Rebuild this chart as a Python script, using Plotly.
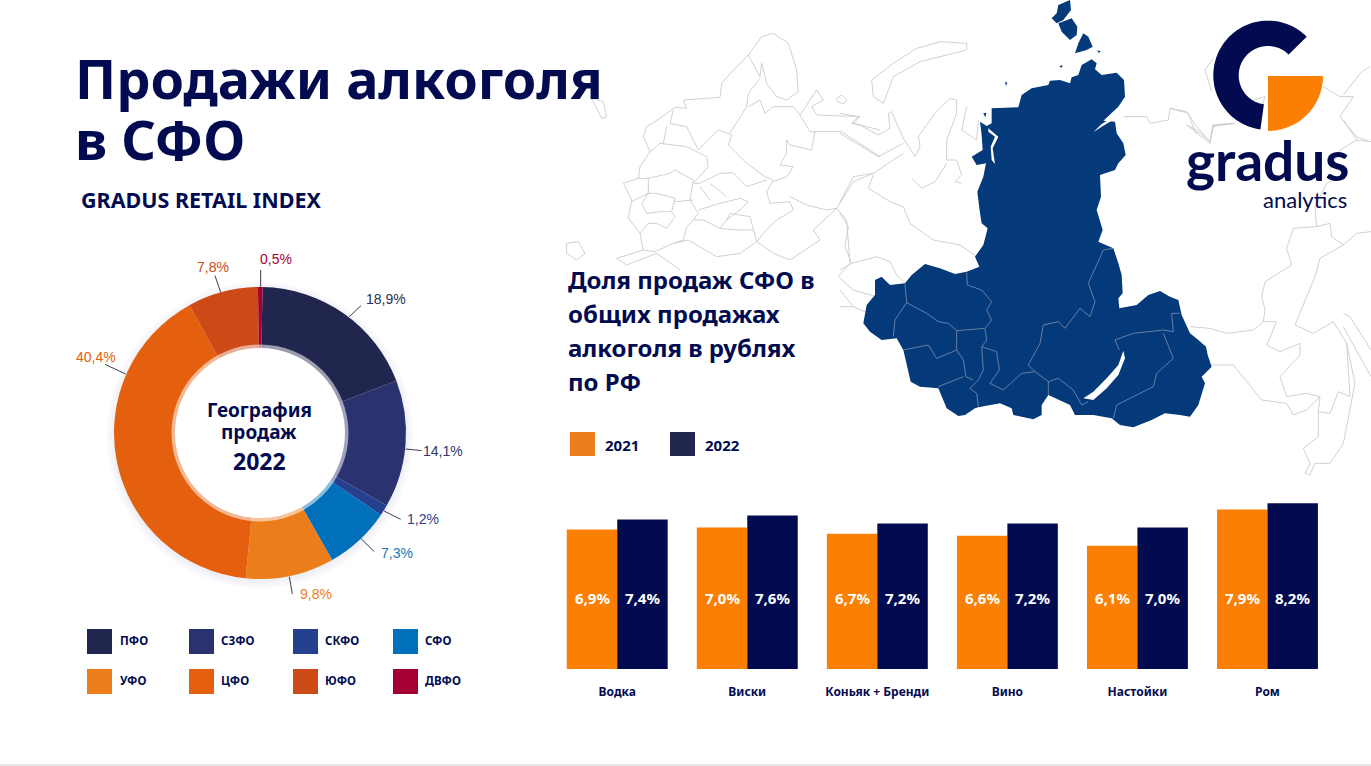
#!/usr/bin/env python3
# -*- coding: utf-8 -*-
import numpy as np
import plotly.graph_objects as go

W, H = 1371, 766
NAVY = "#020B50"
FONT = "Noto Sans"

# donut
regions = ["ПФО", "СЗФО", "СКФО", "СФО", "УФО", "ЦФО", "ЮФО", "ДВФО"]
region_shares = [18.9, 14.1, 1.2, 7.3, 9.8, 40.4, 7.8, 0.5]
region_colors = ["#21264E", "#2A3270", "#24408F", "#0070BB",
                 "#EC7D1B", "#E4600F", "#CB4A15", "#A50034"]
label_colors = ["#2B3055", "#2F3768", "#2A4488", "#1B75B5",
                "#EC7D1B", "#E4600F", "#CB4A15", "#A50034"]

# bars
categories = ["Водка", "Виски", "Коньяк + Бренди", "Вино", "Настойки", "Ром"]
share_2021 = [6.9, 7.0, 6.7, 6.6, 6.1, 7.9]
share_2022 = [7.4, 7.6, 7.2, 7.2, 7.0, 8.2]
years = ["2021", "2022"]

# map outlines, traced by hand, (x, y) in zoomed crop units
SFO_MAIN = [(455,325),(535,322),(545,285),(575,265),(625,255),(630,242),(660,240),(690,250),(695,232),(715,225),(725,195),(755,178),(770,190),(765,208),(785,225),(830,218),(852,240),(855,290),(835,320),(790,362),(825,365),(830,400),(850,430),(857,465),(835,490),(825,510),(780,525),(783,590),(770,630),(788,690),(775,725),(820,745),(835,790),(845,825),(848,880),(835,895),(838,925),(890,915),(925,885),(960,873),(990,890),(1015,900),(1025,945),(1050,1000),(1075,1020),(1098,1040),(1103,1065),(1115,1100),(1085,1130),(1095,1150),(1075,1215),(1050,1250),(1020,1245),(975,1240),(935,1260),(880,1282),(840,1275),(815,1255),(760,1245),(705,1245),(690,1215),(625,1185),(605,1215),(605,1245),(580,1258),(520,1245),(515,1225),(480,1210),(415,1222),(405,1225),(375,1245),(355,1248),(320,1225),(295,1165),(240,1160),(212,1145),(190,1050),(170,1015),(125,1020),(90,995),(70,970),(80,915),(105,885),(105,840),(125,830),(150,855),(195,850),(215,825),(255,792),(300,805),(345,822),(380,815),(418,800),(405,770),(430,735),(443,685),(425,670),(420,640),(412,575),(430,530),(438,490),(410,495),(395,470),(428,450),(425,405),(420,365),(440,378),(455,370)]
SFO_ISLANDS = [
    [(655,15),(690,0),(693,30),(670,60),(650,70),(635,55),(650,40)],
    [(655,70),(695,55),(712,80),(710,105),(690,120),(665,95)],
    [(730,100),(745,110),(758,140),(740,150),(705,160),(715,130)],
    [(495,245),(502,248),(498,258)],
    [(658,198),(668,196),(664,204)],
    [(772,150),(783,155),(775,158)],
    [(430,340),(439,338),(436,352)],
]
SFO_HOLES = [
    [(850,1052),(855,1075),(835,1125),(800,1165),(760,1200),(730,1195),(760,1175),(800,1135),(835,1095)],
    [(445,385),(475,410),(458,445),(465,492),(455,480),(452,440),(465,410),(445,395)],
    [(760,397),(785,372),(830,345),(815,362),(785,380)],
]
SFO_BORDERS = [
    [(380,818),(382,855),(425,870),(455,905),(440,930),(455,960),(435,985),(350,992),(325,970),(295,965),(260,940),(200,908),(195,850)],
    [(200,908),(165,960),(160,1010)],
    [(350,992),(350,1050),(370,1080),(378,1130),(400,1140)],
    [(435,985),(440,1020),(425,1040),(430,1110),(415,1140),(390,1165),(410,1180),(415,1220)],
    [(425,1040),(470,1055),(478,1110),(450,1150),(490,1170),(545,1120),(585,1115),(625,1145),(625,1185)],
    [(585,1115),(565,1095),(600,1030),(610,975),(655,965),(675,985),(720,925),(750,950),(765,905),(745,850),(790,750),(820,745)],
    [(625,1145),(655,1135),(700,1170),(725,1215),(745,1205)],
    [(190,1050),(265,1035),(290,1075),(350,1050)],
    [(295,1160),(370,1130)],
    [(825,1020),(880,1000),(970,990),(1000,995),(995,940),(1020,940)],
    [(825,1020),(838,1050)],
    [(970,1000),(1000,1075),(950,1120),(940,1160),(830,1215),(820,1255)],
]
MIDDLE_LINES = [
    [(95,240),(160,190),(230,145),(300,125),(380,130),(380,150),(320,165),(240,185),(160,230),(130,310),(100,290),(95,240)],
    [(0,340),(55,350),(35,370),(60,375),(115,405),(150,385),(145,340),(155,335),(190,415),(225,470),(240,440),(235,410),(285,340),(330,295),(350,300),(350,340),(320,420),(320,480),(350,480),(365,525),(345,545),(365,550)],
    [(320,490),(285,545),(245,565),(215,535)],
    [(380,320),(365,390),(410,420),(415,360)],
    [(0,400),(115,470),(190,430)],
    [(190,460),(100,520),(40,545),(0,610)],
    [(100,525),(85,565),(150,605),(190,620),(210,670),(280,720),(360,735),(410,770)],
    [(0,640),(25,680),(15,740),(35,790),(110,770),(150,785),(170,825),(195,850)],
    [(35,790),(0,810)],
    [(0,870),(40,920),(75,935)],
    [(0,920),(40,920)],
    [(850,350),(920,350),(930,370),(985,360),(990,325),(1040,335),(1070,380),(1110,425),(1120,380),(1185,370)],
    [(1040,375),(1075,400)],
]
WEST_LINES = [
    [(565,105),(605,50),(640,40),(685,70),(710,150),(715,215),(680,240),(650,230),(620,190),(605,130),(600,170),(565,105)],
    [(370,240),(480,232),(485,190),(520,150),(565,105)],
    [(370,240),(380,265),(345,262),(300,295),(260,320),(250,350),(270,395),(240,440),(235,475),(190,490),(215,540),(205,595),(240,640),(250,690),(285,695),(340,670)],
    [(340,270),(330,310),(380,320),(415,390),(475,330),(515,345),(505,375),(560,430),(615,470),(640,480),(620,515),(630,550),(690,545)],
    [(600,175),(565,220),(560,260),(510,340)],
    [(565,260),(600,240),(615,280),(640,260),(700,260),(720,285),(750,335),(845,335),(960,410)],
    [(270,395),(300,370),(380,380),(440,410),(445,440),(400,490),(420,490),(480,460),(520,458),(560,500),(620,480)],
    [(310,370),(320,320)],
    [(235,475),(265,475),(330,460),(345,450),(400,480),(390,540),(415,580),(400,600),(380,620),(370,660),(340,670)],
    [(265,475),(265,520),(215,545)],
    [(265,520),(290,520),(345,535),(335,575),(300,575),(260,580),(245,550),(265,520)],
    [(345,545),(400,540)],
    [(335,575),(345,590),(320,625),(290,610),(265,610),(240,640)],
    [(415,570),(480,550),(540,535),(565,545),(540,570),(500,600),(480,625),(430,600),(400,600)],
    [(420,500),(450,540)],
    [(450,490),(500,530)],
    [(690,545),(700,570),(650,600),(610,640),(590,665),(640,700),(690,720),(780,660),(760,630),(830,565),(860,600),(870,730),(835,770),(880,810),(950,830)],
    [(690,530),(740,555),(800,570),(830,565),(880,470),(940,460)],
    [(680,360),(690,375),(755,390),(765,335)],
    [(680,360),(680,400),(660,435),(700,440),(680,470),(640,485)],
    [(340,670),(385,660),(470,710),(540,700),(590,665)],
    [(250,690),(170,715),(200,735),(290,700),(360,750)],
    [(500,600),(510,580),(570,590),(590,665)],
    [(480,625),(530,630),(580,630)],
    [(720,285),(770,210),(790,240),(755,260),(770,285),(900,290),(880,310),(960,330)],
    [(845,225),(860,240),(850,252),(832,245),(830,235),(845,225)],
    [(95,235),(130,245),(140,290),(125,295),(95,235)],
    [(20,670),(55,665),(75,700),(50,720),(20,700),(20,670)],
]
EAST_LINES = [
    [(180,620),(240,625),(290,640),(370,630),(400,605),(440,605),(410,675),(450,695),(510,670),(510,705),(450,770),(470,830),(530,820),(570,830),(565,875),(600,880),(625,815),(660,830),(650,670),(610,605),(550,640),(495,615),(555,470),(570,415),(640,375),(680,340),(723,335)],
    [(400,605),(405,570),(395,530),(405,485),(485,435),(470,385),(490,325),(560,320),(600,310),(605,350),(640,375)],
    [(560,320),(555,260),(590,190),(630,170),(640,140)],
    [(245,735),(310,735),(395,840),(470,850),(490,885),(530,870),(570,830)],
    [(565,875),(565,950),(520,985),(540,1030),(525,1060),(540,1065),(555,1030),(600,1030),(640,970),(675,790),(650,670)],
    [(640,580),(660,590),(723,690)],
    [(640,620),(723,770)],
    [(640,0),(680,60),(723,65)],
    [(680,60),(630,90),(600,150)],
    [(170,15),(200,30),(240,65),(250,15),(310,10)],
]
NE_LINES = [
    [(0,325),(55,340),(75,395),(120,430),(128,375),(190,370)],
    [(460,260),(510,290),(550,290),(510,350),(560,410),(600,425)],
    [(520,285),(575,215),(600,200)],
    [(130,175),(105,210),(125,275)],
    [(250,300),(285,290),(275,320)],
]


def px(x):
    return x / W


def py(y):
    return 1 - y / H


def crop(points, x0, y0, scale=3):
    return [(x0 + x / scale, y0 + y / scale) for x, y in points]


def path(points, closed=False):
    d = "M" + "L".join(f"{px(x):.5f},{py(y):.5f}" for x, y in points)
    return d + ("Z" if closed else "")


def poly_shape(points, color, layer="below"):
    return dict(type="path", xref="paper", yref="paper", path=path(points, True),
                fillcolor=color, line=dict(width=0), layer=layer)


def line_shape(points, color, width=0.9, layer="below"):
    return dict(type="path", xref="paper", yref="paper", path=path(points),
                line=dict(color=color, width=width), layer=layer)


def rect_shape(x0, y0, x1, y1, color):
    return dict(type="rect", xref="paper", yref="paper", x0=px(x0), x1=px(x1),
                y0=py(y1), y1=py(y0), fillcolor=color, line=dict(width=0))


def circle_shape(cx, cy, r, **kwargs):
    return dict(type="circle", xref="paper", yref="paper", x0=px(cx - r), x1=px(cx + r),
                y0=py(cy + r), y1=py(cy - r), **kwargs)


def text_at(x, y, text, size, color=NAVY, bold=True, anchor="left", family=FONT):
    return dict(xref="paper", yref="paper", x=px(x), y=py(y), text=text, showarrow=False,
                xanchor=anchor, yanchor="middle", borderpad=0,
                font=dict(family=family, size=size, color=color,
                          weight=700 if bold else 400))


def pct(value):
    return f"{value:.1f}".replace(".", ",") + "%"


shapes = []
annotations = []

# background map
MAP_LINE = "#CBCBCB"
for line in MIDDLE_LINES:
    shapes.append(line_shape(crop(line, 840, 0), MAP_LINE))
for line in WEST_LINES:
    shapes.append(line_shape(crop(line, 560, 20), MAP_LINE))
for line in EAST_LINES:
    shapes.append(line_shape(crop(line, 1130, 120), MAP_LINE))
for line in NE_LINES:
    shapes.append(line_shape(crop(line, 1170, 0), MAP_LINE))

# the highlighted district
SFO_COLOR = "#04397A"
shapes.append(poly_shape(crop(SFO_MAIN, 840, 0), SFO_COLOR))
for island in SFO_ISLANDS:
    shapes.append(poly_shape(crop(island, 840, 0), SFO_COLOR))
for hole in SFO_HOLES:
    shapes.append(poly_shape(crop(hole, 840, 0), "white"))
for border in SFO_BORDERS:
    shapes.append(line_shape(crop(border, 840, 0), "#6F87AA"))

# logo
LOGO_X, LOGO_Y = 1170 + 294 / 3, 226 / 3
ring_angles = np.radians(np.linspace(45, 262, 80))
ring = [(LOGO_X + 54.7 * np.cos(a), LOGO_Y - 54.7 * np.sin(a)) for a in ring_angles]
ring += [(LOGO_X + 29.3 * np.cos(a), LOGO_Y - 29.3 * np.sin(a)) for a in ring_angles[::-1]]
shapes.append(poly_shape(ring, NAVY, layer="above"))
quarter_angles = np.radians(np.linspace(0, -90, 40))
quarter = [(LOGO_X, LOGO_Y + 0.6)]
quarter += [(LOGO_X + 55 * np.cos(a), LOGO_Y + 0.6 - 55 * np.sin(a)) for a in quarter_angles]
shapes.append(poly_shape(quarter, "#FB7F02", layer="above"))
annotations.append(text_at(1268, 160, "gradus", 55, anchor="center", family="Lato"))
annotations.append(text_at(1348, 200, "analytics", 22, bold=False, anchor="right", family="Lato"))

# donut shadow and inner rim
DONUT_X, DONUT_Y, DONUT_R, DONUT_HOLE = 260, 433, 146, 85
for grow in range(1, 9):
    shapes.append(circle_shape(DONUT_X, DONUT_Y + 2, DONUT_R + grow, fillcolor="#3A4A8C",
                               opacity=0.012, line=dict(width=0), layer="below"))
shapes.append(circle_shape(DONUT_X, DONUT_Y, DONUT_HOLE + 2, fillcolor="white",
                           line=dict(width=0), layer="below"))
shapes.append(circle_shape(DONUT_X, DONUT_Y, DONUT_HOLE + 1, line=dict(color="white", width=5),
                           opacity=0.55, layer="above"))

# donut labels, leader lines
label_spots = [(386, 299), (443, 451), (423, 519), (397, 553),
               (316, 594), (96, 357), (213, 267), (276, 259)]
leader_lines = [[(868, 260), (903, 227)], [(1037, 657), (1085, 662)], [(972, 843), (1022, 868)],
                [(902, 925), (943, 965)], [(688, 1040), (697, 1092)], [(197, 432), (135, 403)],
                [(482, 187), (465, 137)], [(602, 172), (602, 120)]]
for share, color, spot, leader in zip(region_shares, label_colors, label_spots, leader_lines):
    annotations.append(text_at(spot[0], spot[1], pct(share), 14, color=color, bold=False,
                               anchor="center", family="Liberation Sans"))
    shapes.append(line_shape(crop(leader, 60, 230), "#3C3C50", width=1, layer="above"))

# donut legend
legend_x = [87, 189, 293, 393]
legend_text_x = [119, 220, 324, 424]
legend_y = [629, 669]
for i, (name, color) in enumerate(zip(regions, region_colors)):
    col, row = i % 4, i // 4
    shapes.append(rect_shape(legend_x[col], legend_y[row], legend_x[col] + 25,
                             legend_y[row] + 25, color))
    annotations.append(text_at(legend_text_x[col], legend_y[row] + 11.5, name, 11.5))

# texts
annotations.append(text_at(74, 78, "Продажи алкоголя", 54))
annotations.append(text_at(74, 139, "в СФО", 54))
annotations.append(text_at(80, 200, "GRADUS RETAIL INDEX", 21.5))
annotations.append(text_at(DONUT_X - 1, 410, "География", 19, anchor="center"))
annotations.append(text_at(DONUT_X - 1, 432, "продаж", 19, anchor="center"))
annotations.append(text_at(DONUT_X - 1, 461, "2022", 23, anchor="center"))
for y, line in zip([279, 313, 347, 382],
                   ["Доля продаж СФО в", "общих продажах", "алкоголя в рублях", "по РФ"]):
    annotations.append(text_at(567, y, line, 24))

# bar legend
for x, year, color in zip([570, 670], years, ["#EC7D1B", "#21264E"]):
    shapes.append(rect_shape(x, 432, x + 25, 456, color))
    annotations.append(text_at(x + 33.5, 445, year, 15))

# thin rule at the bottom of the slide
shapes.append(line_shape([(0, 765), (W, 765)], "#CFCFCF", width=1))

fig = go.Figure()

fig.add_trace(
    go.Pie(
        labels=regions,
        values=region_shares,
        sort=False,
        direction="clockwise",
        rotation=1,
        hole=DONUT_HOLE / DONUT_R,
        marker={"colors": region_colors, "line": {"width": 0}},
        textinfo="none",
        showlegend=False,
        domain={
            "x": [px(DONUT_X - DONUT_R), px(DONUT_X + DONUT_R)],
            "y": [py(DONUT_Y + DONUT_R), py(DONUT_Y - DONUT_R)]
        }
    )
)

for name, values, color in zip(years, [share_2021, share_2022], ["#FB7F02", NAVY]):
    fig.add_trace(
        go.Bar(
            x=categories,
            y=values,
            name=name,
            marker={"color": color, "line": {"width": 0}},
            showlegend=False
        )
    )

# bar value labels all sit at one height
BAR_LABEL_LEVEL = 3.5
for i, cat in enumerate(categories):
    for values, shift in ((share_2021, -25), (share_2022, 25)):
        annotations.append(dict(xref="x", yref="y", x=cat, y=BAR_LABEL_LEVEL, xshift=shift,
                                text=pct(values[i]), showarrow=False, yanchor="middle",
                                font=dict(family=FONT, size=15, color="white", weight=700)))

fig.update_layout(
    width=W,
    height=H,
    margin=dict(l=0, r=0, t=0, b=0),
    paper_bgcolor="rgba(0,0,0,0)",
    plot_bgcolor="rgba(0,0,0,0)",
    barmode="group",
    bargap=0.224,
    bargroupgap=0,
    shapes=shapes,
    annotations=annotations,
    xaxis=dict(
        domain=[px(552.2), px(1332.5)],
        showgrid=False,
        zeroline=False,
        showline=False,
        ticks="",
        ticklabelstandoff=14,
        tickfont=dict(family=FONT, size=12, color=NAVY, weight=700)
    ),
    yaxis=dict(
        domain=[py(669), py(467)],
        range=[0, 10],
        visible=False
    )
)

fig.write_html(
    "out.html",
    config={"displayModeBar": False},
    post_script="document.body.style.margin='0';document.body.style.overflow='hidden';"
)
